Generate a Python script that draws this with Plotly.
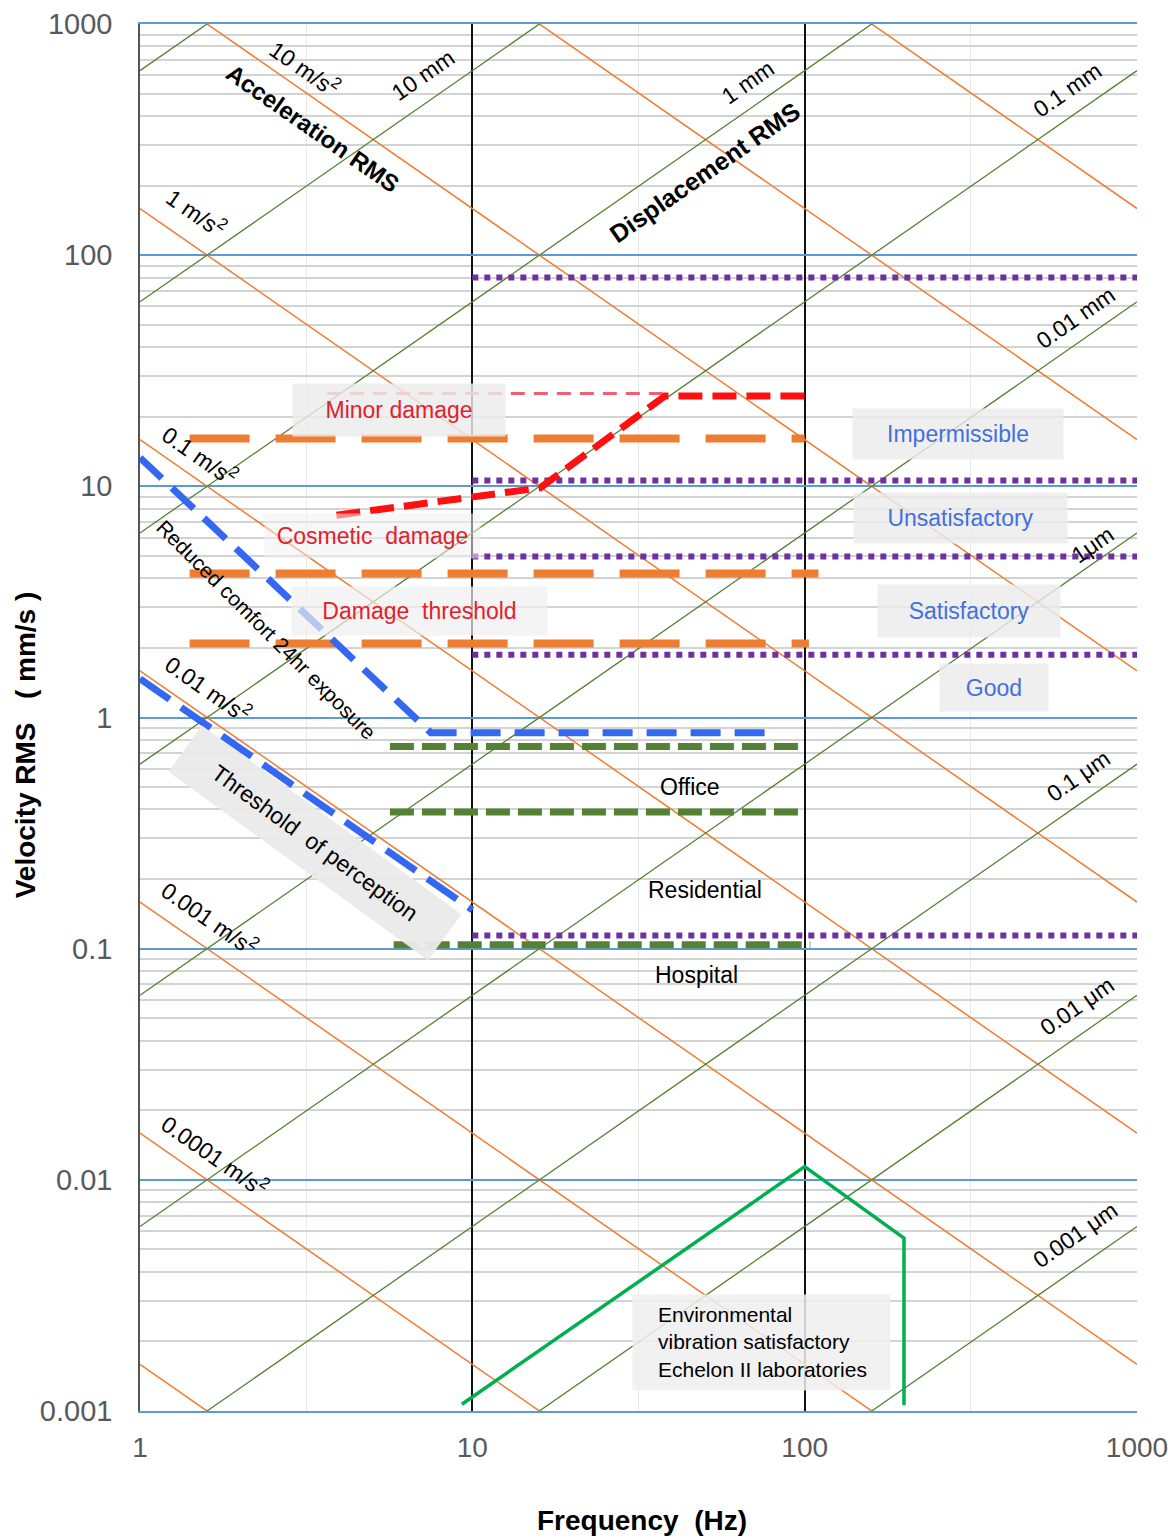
import math
import plotly.graph_objects as go

# ---------------- data ----------------
x_ticks = [1, 10, 100, 1000]
x_ticktext = ["1", "10", "100", "1000"]
y_ticks = [0.001, 0.01, 0.1, 1, 10, 100, 1000]
y_ticktext = ["0.001", "0.01", "0.1", "1", "10", "100", "1000"]

accel_levels = [1e-5, 1e-4, 1e-3, 1e-2, 1e-1, 1, 10, 100, 1000]   # m/s^2
disp_levels = [1e-6, 1e-5, 1e-4, 1e-3, 1e-2, 1e-1, 1, 10, 100]    # mm
chart_f = [1, 1000]

machine_f = [10, 1000]
machine_levels = [80, 10.6, 4.97, 1.87, 0.114]

damage_f = [[1.41, 100], [1.41, 110], [1.41, 103]]
damage_levels = [16.1, 4.2, 2.09]

cosmetic_f = [3.9, 16, 38, 104]
cosmetic_v = [7.5, 9.85, 24.6, 24.6]
minor_f = [3.65, 38]
minor_v = [25.2, 25.2]

comfort_f = [1, 7.5, 78]
comfort_v = [13.3, 0.86, 0.86]
perception_f = [1, 10]
perception_v = [1.47, 0.147]

office_f = [5.65, 100]
office_levels = [0.75, 0.39]
hospital_f = [5.8, 104]
hospital_v = [0.104, 0.104]

lab_f = [9.3, 100, 199, 199]
lab_v = [0.00107, 0.0114, 0.0056, 0.00106]

# ---------------- styles ----------------
FONT = "Liberation Sans, Arial, sans-serif"
ORANGE = "#ED7D31"
DGREEN = "#548235"
PURPLE = "#7030A0"
RED = "#FF1010"
BLUE = "#3468F2"
LBLUE = "#4270DC"
TRED = "#E3202B"
ANG = math.degrees(math.atan(231.2 / 332.3))

fig = go.Figure()

# iso-acceleration lines
for a in accel_levels:
    fig.add_trace(go.Scatter(x=chart_f, y=[a * 1000 / (2 * math.pi * f) for f in chart_f],
                             mode="lines", line=dict(color=ORANGE, width=1.5), hoverinfo="skip"))
# iso-displacement lines
for d in disp_levels:
    fig.add_trace(go.Scatter(x=chart_f, y=[2 * math.pi * f * d for f in chart_f],
                             mode="lines", line=dict(color=DGREEN, width=1.3), hoverinfo="skip"))

# damage levels (orange long dash)
for fr, v in zip(damage_f, damage_levels):
    fig.add_trace(go.Scatter(x=fr, y=[v, v], mode="lines",
                             line=dict(color=ORANGE, width=8, dash="60px,26px")))

# office / residential / hospital (green dash)
for v in office_levels:
    fig.add_trace(go.Scatter(x=office_f, y=[v, v], mode="lines",
                             line=dict(color=DGREEN, width=7, dash="24px,8px")))
fig.add_trace(go.Scatter(x=hospital_f, y=hospital_v, mode="lines",
                         line=dict(color=DGREEN, width=7, dash="24px,8px")))

# machine vibration zones (purple dotted)
for v in machine_levels:
    fig.add_trace(go.Scatter(x=machine_f, y=[v, v], mode="lines",
                             line=dict(color=PURPLE, width=6, dash="6px,6px")))

# comfort and perception (blue dash)
fig.add_trace(go.Scatter(x=comfort_f, y=comfort_v, mode="lines",
                         line=dict(color=BLUE, width=7, dash="30px,14px")))
fig.add_trace(go.Scatter(x=perception_f, y=perception_v, mode="lines",
                         line=dict(color=BLUE, width=7, dash="36px,14px")))

# cosmetic / minor damage (red)
fig.add_trace(go.Scatter(x=minor_f, y=minor_v, mode="lines",
                         line=dict(color="#F06070", width=3, dash="14px,9px")))
fig.add_trace(go.Scatter(x=cosmetic_f, y=cosmetic_v, mode="lines",
                         line=dict(color=RED, width=7, dash="24px,10px")))

# Echelon II laboratories
fig.add_trace(go.Scatter(x=lab_f, y=lab_v, mode="lines",
                         line=dict(color="#00B050", width=3.5)))

# ---------------- annotations ----------------
ann = []


def lab(text, lx, ly, size=23, color="black", angle=0, bold=False, bg=None,
        w=None, h=None, align="center", xanchor="center"):
    d = dict(x=lx, y=ly, xref="x", yref="y", text=f"<b>{text}</b>" if bold else text,
             showarrow=False, textangle=angle, align=align, xanchor=xanchor, yanchor="middle",
             font=dict(family=FONT, size=size, color=color))
    if bg:
        d.update(bgcolor=bg, borderpad=0)
    if w:
        d.update(width=w)
    if h:
        d.update(height=h)
    ann.append(d)


MS2 = " m/s<sup>2</sup>"
# acceleration labels
lab("10" + MS2, 0.497, 2.810, angle=ANG)
lab("Acceleration RMS", 0.521, 2.550, size=24, angle=ANG, bold=True)
lab("1" + MS2, 0.169, 2.187, angle=ANG)
lab("0.1" + MS2, 0.181, 1.136, angle=ANG)
lab("0.01" + MS2, 0.205, 0.128, angle=ANG)
lab("0.001" + MS2, 0.211, -0.867, angle=ANG)
lab("0.0001" + MS2, 0.226, -1.892, angle=ANG)
# displacement labels
lab("10 mm", 0.852, 2.779, angle=-ANG)
lab("1 mm", 1.830, 2.749, angle=-ANG)
lab("Displacement RMS", 1.700, 2.360, size=25, angle=-ANG, bold=True)
lab("0.1 mm", 2.790, 2.715, angle=-ANG)
lab("0.01 mm", 2.814, 1.728, angle=-ANG)
lab("1μm", 2.865, 0.747, angle=-ANG)
lab("0.1 μm", 2.823, -0.253, angle=-ANG)
lab("0.01 μm", 2.820, -1.247, angle=-ANG)
lab("0.001 μm", 2.814, -2.238, angle=-ANG)

BOX = "rgba(236,236,236,0.82)"
# damage labels
lab("Minor damage", 0.779, 1.330, color=TRED, bg=BOX, w=212, h=52)
lab("Cosmetic  damage", 0.701, 0.786, color=TRED, bg="rgba(240,240,240,0.55)", w=215, h=44)
lab("Damage  threshold", 0.842, 0.461, color=TRED, bg="rgba(240,240,240,0.7)", w=255, h=48)
# machine zone labels
lab("Impermissible", 2.461, 1.227, color=LBLUE, bg=BOX, w=210, h=50)
lab("Unsatisfactory", 2.470, 0.863, color=LBLUE, bg=BOX, w=213, h=50)
lab("Satisfactory", 2.495, 0.461, color=LBLUE, bg=BOX, w=182, h=52)
lab("Good", 2.570, 0.128, color=LBLUE, bg=BOX, w=108, h=47)
# building labels
lab("Office", 1.655, -0.300)
lab("Residential", 1.700, -0.746)
lab("Hospital", 1.676, -1.113)
# comfort / perception
lab("Reduced comfort 24hr exposure", 0.379, 0.379, size=21, angle=45)
lab("Threshold  of perception", 0.527, -0.542, size=23, angle=36,
    bg="rgba(234,234,234,0.95)", w=320, h=56)
# laboratory
lab(" ", 1.870, -2.703, size=21, bg="rgba(238,238,238,0.85)", w=257, h=95)
lab("Environmental<br>vibration satisfactory<br>Echelon II laboratories", 1.553, -2.703,
    size=21, align="left", xanchor="left")

# axis titles
ann.append(dict(x=0.5035, y=-0.0786, xref="paper", yref="paper", showarrow=False,
                xanchor="center", yanchor="middle",
                text="<b>Frequency  (Hz)</b>", font=dict(family=FONT, size=28, color="black")))
ann.append(dict(x=-0.1153, y=0.480, xref="paper", yref="paper", showarrow=False, textangle=-90,
                xanchor="center", yanchor="middle",
                text="<b>Velocity RMS   ( mm/s )</b>", font=dict(family=FONT, size=28, color="black")))

fig.update_layout(
    width=1168, height=1539,
    margin=dict(l=140, r=31, t=24, b=128, autoexpand=False),
    paper_bgcolor="white", plot_bgcolor="white",
    showlegend=False,
    annotations=ann,
    xaxis=dict(type="log", range=[0, 3], tickvals=x_ticks, ticktext=x_ticktext,
               showgrid=True, gridcolor="#111111", gridwidth=2,
               minor=dict(tickmode="array", tickvals=[10 ** 0.5, 10 ** 1.5, 10 ** 2.5],
                          showgrid=True, gridcolor="#E8E8E8", gridwidth=1),
               showline=True, linecolor="#5B9BD5", linewidth=2, mirror=True,
               ticks="", ticklabelstandoff=10, ticklabeloverflow="allow", zeroline=False,
               automargin=False,
               tickfont=dict(family=FONT, size=28, color="#595959")),
    yaxis=dict(type="log", range=[-3, 3], tickvals=y_ticks, ticktext=y_ticktext,
               showgrid=True, gridcolor="#5B9BD5", gridwidth=2,
               minor=dict(dtick="D1", showgrid=True, gridcolor="#D3D3D3", gridwidth=1.5),
               showline=True, linecolor="#555555", linewidth=1.5, mirror=False,
               ticks="", ticklabelstandoff=20, ticklabeloverflow="allow", zeroline=False,
               automargin=False,
               tickfont=dict(family=FONT, size=29, color="#595959")),
)

fig.write_html("out.html")
